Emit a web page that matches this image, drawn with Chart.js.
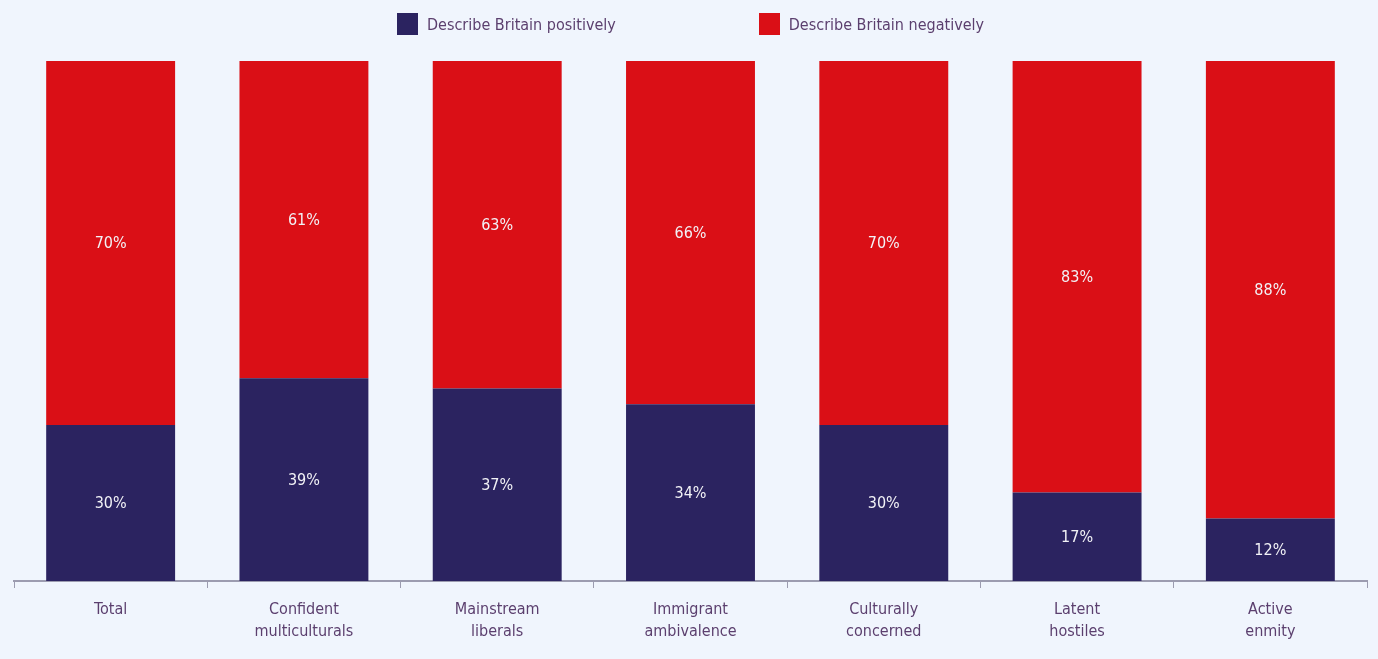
<!DOCTYPE html>
<html>
<head>
<meta charset="utf-8">
<script src="https://cdn.jsdelivr.net/npm/chart.js@4/dist/chart.umd.min.js"></script>
<style>
  html, body { margin: 0; padding: 0; background: #f0f5fd; }
  #wrap { position: relative; width: 1378px; height: 659px; }
  #legend {
    position: absolute; top: 13px; left: 397px;
    display: flex; font-family: 'Liberation Sans Narrow', 'DejaVu Sans Condensed', sans-serif;
    font-size: 16px; color: #5b3f6e;
  }
  .item { display: flex; align-items: center; margin-right: 143px; }
  .box { width: 21px; height: 22px; margin-right: 9px; }
</style>
</head>
<body>
<div id="wrap">
  <canvas id="britain-chart" width="1378" height="659"></canvas>
  <div id="legend"></div>
</div>
<script>
const categories = [
    ['Total'],
    ['Confident', 'multiculturals'],
    ['Mainstream', 'liberals'],
    ['Immigrant', 'ambivalence'],
    ['Culturally', 'concerned'],
    ['Latent', 'hostiles'],
    ['Active', 'enmity']
];
const positive = [30, 39, 37, 34, 30, 17, 12];
const negative = [70, 61, 63, 66, 70, 83, 88];
const seriesNames = ['Describe Britain positively', 'Describe Britain negatively'];
const colours = ['#2b2360', '#da0f16'];

const fontFamily = "'Liberation Sans Narrow', 'DejaVu Sans Condensed', sans-serif";

// HTML legend above the plot
const legendEl = document.getElementById('legend');
seriesNames.forEach((name, i) => {
    const item = document.createElement('div');
    item.className = 'item';
    item.innerHTML = '<span class="box" style="background:' + colours[i] + '"></span><span>' + name + '</span>';
    legendEl.appendChild(item);
});

// writes each segment's percentage in the middle of the segment
const segmentLabels = {
    id: 'segmentLabels',
    afterDatasetsDraw(chart) {
        const ctx = chart.ctx;
        ctx.save();
        ctx.font = '16px ' + fontFamily;
        ctx.fillStyle = '#f2f2f6';
        ctx.textAlign = 'center';
        ctx.textBaseline = 'middle';
        chart.data.datasets.forEach((ds, i) => {
            chart.getDatasetMeta(i).data.forEach((bar, j) => {
                ctx.fillText(ds.data[j] + '%', bar.x, (bar.y + bar.base) / 2 + 1);
            });
        });
        ctx.restore();
    }
};

const ctx = document.getElementById('britain-chart').getContext('2d');
new Chart(ctx, {
    type: 'bar',
    data: {
        labels: categories,
        datasets: [{
            label: seriesNames[0],
            data: positive,
            backgroundColor: colours[0],
        }, {
            label: seriesNames[1],
            data: negative,
            backgroundColor: colours[1],
        }]
    },
    options: {
        responsive: false,
        animation: false,
        datasets: { bar: { categoryPercentage: 1, barPercentage: 0.667 } },
        layout: { padding: { top: 61, left: 14, right: 11, bottom: 5 } },
        plugins: { legend: { display: false }, tooltip: { enabled: false } },
        scales: {
            x: {
                stacked: true,
                grid: {
                    offset: true,
                    drawOnChartArea: false,
                    tickLength: 7,
                    color: '#9c9cb0',
                },
                border: { color: '#9c9cb0', width: 2 },
                ticks: {
                    color: '#5b3f6e',
                    font: { family: fontFamily, size: 16, lineHeight: 1.375 },
                    padding: 11,
                    maxRotation: 0,
                }
            },
            y: {
                stacked: true,
                display: false,
                min: 0,
                max: 100,
            }
        }
    },
    plugins: [segmentLabels]
});
</script>
</body>
</html>
